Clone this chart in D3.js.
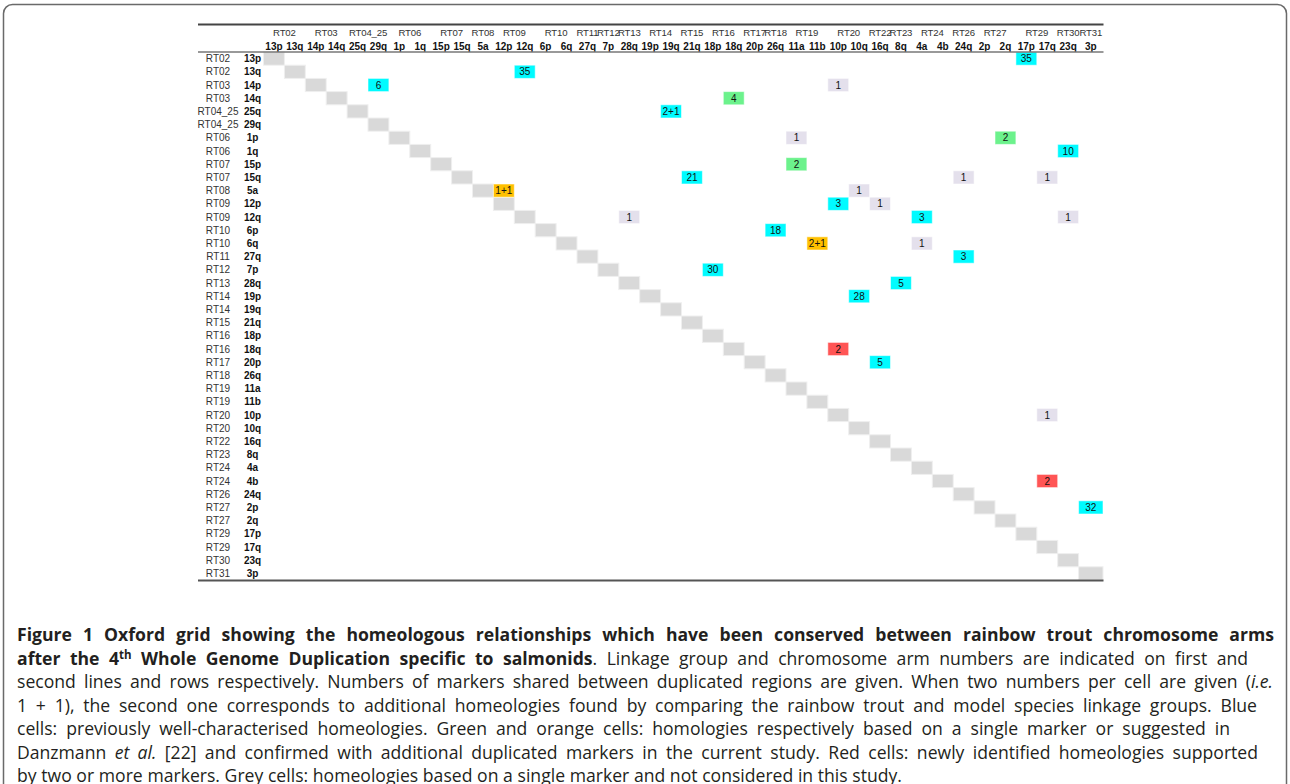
<!DOCTYPE html>
<html>
<head>
<meta charset="utf-8">
<script src="https://cdn.jsdelivr.net/npm/d3@7"></script>
<style>
  body { margin: 0; background: #fff; }
  svg { display: block; }
</style>
</head>
<body>
<svg id="grid" width="1290" height="784"></svg>
<script>
// linkage groups (first line / first column) and chromosome arms (second line / column)
var groups = ["RT02","RT02","RT03","RT03","RT04_25","RT04_25","RT06","RT06","RT07","RT07",
  "RT08","RT09","RT09","RT10","RT10","RT11","RT12","RT13","RT14","RT14","RT15","RT16","RT16",
  "RT17","RT18","RT19","RT19","RT20","RT20","RT22","RT23","RT24","RT24","RT26","RT27","RT27",
  "RT29","RT29","RT30","RT31"];
var arms = ["13p","13q","14p","14q","25q","29q","1p","1q","15p","15q","5a","12p","12q","6p","6q",
  "27q","7p","28q","19p","19q","21q","18p","18q","20p","26q","11a","11b","10p","10q","16q","8q",
  "4a","4b","24q","2p","2q","17p","17q","23q","3p"];

// shared markers: row arm, column arm, label, cell kind
var cellRows   = ["13p","13q","14p","14p","14q","25q","1p","1p","1q","15p","15q","15q","15q","5a","5a",
  "12p","12p","12q","12q","12q","6p","6q","6q","27q","7p","28q","19p","18q","20p","10p","4b","2p"];
var cellCols   = ["17p","12q","29q","10p","18q","19q","11a","2q","23q","11a","21q","24q","17q","12p","10q",
  "10p","16q","28q","4a","23q","26q","11b","4a","24q","18p","8q","10q","10p","16q","17q","17q","3p"];
var cellLabels = ["35","35","6","1","4","2+1","1","2","10","2","21","1","1","1+1","1",
  "3","1","1","3","1","18","2+1","1","3","30","5","28","2","5","1","2","32"];
var cellKinds  = ["blue","blue","blue","grey","green","blue","grey","green","blue","green","blue","grey","grey","orange","grey",
  "blue","grey","grey","blue","grey","blue","orange","grey","blue","blue","blue","blue","red","blue","grey","red","blue"];

var kindColor = {
  blue: "#00fbff", green: "#6cf28c", orange: "#ffc000", red: "#ff5555", grey: "#e4e0ec", diag: "#d9d9d9"
};

var captionLines = [
  [["Figure 1 Oxford grid showing the homeologous relationships which have been conserved between rainbow trout chromosome arms", "b"]],
  [["after the 4", "b"], ["th", "bsup"], [" Whole Genome Duplication specific to salmonids", "b"], [". Linkage group and chromosome arm numbers are indicated on first and", "n"]],
  [["second lines and rows respectively. Numbers of markers shared between duplicated regions are given. When two numbers per cell are given (", "n"], ["i.e.", "i"]],
  [["1 + 1), the second one corresponds to additional homeologies found by comparing the rainbow trout and model species linkage groups. Blue", "n"]],
  [["cells: previously well-characterised homeologies. Green and orange cells: homologies respectively based on a single marker or suggested in", "n"]],
  [["Danzmann ", "n"], ["et al.", "i"], [" [22] and confirmed with additional duplicated markers in the current study. Red cells: newly identified homeologies supported", "n"]],
  [["by two or more markers. Grey cells: homeologies based on a single marker and not considered in this study.", "n"]]
];
var captionRight = [1274, 1248, 1273, 1257, 1230, 1258, 902];

var svg = d3.select("#grid");

// outer frame of the figure
svg.append("rect")
  .attr("x", 3.5).attr("y", 4.5)
  .attr("width", 1283).attr("height", 840)
  .attr("rx", 9)
  .attr("fill", "none")
  .attr("stroke", "#6a6a6a")
  .attr("stroke-width", 1.5);

var gLeft = 263.5, gRight = 1099.5, gTop = 52, gBottom = 580;
var x = d3.scaleBand().domain(arms).range([gLeft, gRight]);
var y = d3.scaleBand().domain(arms).range([gTop, gBottom]);
var lastExtra = 3.5; // last column is drawn a little wider

function cw(a) { return x.bandwidth() + (a === "3p" ? lastExtra : 0); }
function cx(a) { return x(a) + cw(a) / 2; }

var font = "'Liberation Sans', Arial, Helvetica, sans-serif";

// diagonal
svg.append("g").selectAll("rect")
  .data(arms).enter().append("rect")
  .attr("x", function (d) { return x(d); })
  .attr("y", function (d) { return y(d); })
  .attr("width", function (d) { return cw(d); })
  .attr("height", y.bandwidth())
  .attr("fill", kindColor.diag)
  .attr("stroke", "#efefef")
  .attr("stroke-width", 1);

// shared-marker cells
var cells = cellRows.map(function (r, i) {
  return { r: r, c: cellCols[i], label: cellLabels[i], kind: cellKinds[i] };
});
var cg = svg.append("g").selectAll("g")
  .data(cells).enter().append("g");
cg.append("rect")
  .attr("x", function (d) { return x(d.c); })
  .attr("y", function (d) { return y(d.r); })
  .attr("width", function (d) { return cw(d.c); })
  .attr("height", y.bandwidth())
  .attr("fill", function (d) { return kindColor[d.kind]; })
  .attr("stroke", "rgba(255,255,255,0.55)")
  .attr("stroke-width", 1);
cg.append("text")
  .attr("x", function (d) { return cx(d.c); })
  .attr("y", function (d) { return y(d.r) + y.bandwidth() / 2; })
  .attr("dy", "0.36em")
  .attr("text-anchor", "middle")
  .style("font-family", font)
  .style("font-size", "10px")
  .style("fill", "#111")
  .text(function (d) { return d.label; });

// column headers: linkage groups centred over their arms
var runs = [];
groups.forEach(function (g, i) {
  if (runs.length && runs[runs.length - 1].g === g) runs[runs.length - 1].end = arms[i];
  else runs.push({ g: g, start: arms[i], end: arms[i] });
});
svg.append("g").selectAll("text")
  .data(runs).enter().append("text")
  .attr("x", function (d) { return (cx(d.start) + cx(d.end)) / 2; })
  .attr("y", 35.5)
  .attr("text-anchor", "middle")
  .style("font-family", font)
  .style("font-size", "9.6px")
  .style("letter-spacing", "-0.15px")
  .style("fill", "#333")
  .text(function (d) { return d.g; });

svg.append("g").selectAll("text")
  .data(arms).enter().append("text")
  .attr("x", function (d) { return cx(d); })
  .attr("y", 49.5)
  .attr("text-anchor", "middle")
  .style("font-family", font)
  .style("font-size", "10px")
  .style("font-weight", "bold")
  .style("fill", "#111")
  .text(function (d) { return d; });

// row headers
var rows = svg.append("g").selectAll("g")
  .data(arms).enter().append("g")
  .attr("transform", function (d) { return "translate(0," + (y(d) + y.bandwidth() / 2) + ")"; });
rows.append("text")
  .attr("x", 218)
  .attr("dy", "0.36em")
  .attr("text-anchor", "middle")
  .style("font-family", font)
  .style("font-size", "10px")
  .style("fill", "#333")
  .text(function (d, i) { return groups[i]; });
rows.append("text")
  .attr("x", 252.5)
  .attr("dy", "0.36em")
  .attr("text-anchor", "middle")
  .style("font-family", font)
  .style("font-size", "10px")
  .style("font-weight", "bold")
  .style("fill", "#111")
  .text(function (d) { return d; });

// table rules
var rules = [[24.5, 2, "#444"], [52, 1.6, "#777"], [580.5, 2, "#555"]];
svg.append("g").selectAll("line")
  .data(rules).enter().append("line")
  .attr("x1", 198).attr("x2", 1103.5)
  .attr("y1", function (d) { return d[0]; })
  .attr("y2", function (d) { return d[0]; })
  .attr("stroke", function (d) { return d[2]; })
  .attr("stroke-width", function (d) { return d[1]; });

// caption
var cap = svg.append("g")
  .style("font-family", "'Open Sans', 'Noto Sans', sans-serif")
  .style("font-size", "17.6px")
  .style("fill", "#231f20");

captionLines.forEach(function (segs, li) {
  var t = cap.append("text")
    .attr("x", 17)
    .attr("y", 641 + li * 23.5);
  segs.forEach(function (s, j) {
    var ts = t.append("tspan").text(s[0]);
    if (s[1] === "b") ts.style("font-weight", "bold");
    if (s[1] === "i") ts.style("font-style", "italic");
    if (s[1] === "bsup") ts.style("font-weight", "bold").style("font-size", "11.5px").attr("dy", -6);
    if (j > 0 && segs[j - 1][1] === "bsup") ts.attr("dy", 6);
  });
  // justify to the reference line width
  var len = t.node().getComputedTextLength();
  var spaces = segs.map(function (s) { return s[0]; }).join("").split(" ").length - 1;
  if (spaces > 0) t.attr("word-spacing", (captionRight[li] - 17 - len) / spaces);
});
</script>
</body>
</html>
